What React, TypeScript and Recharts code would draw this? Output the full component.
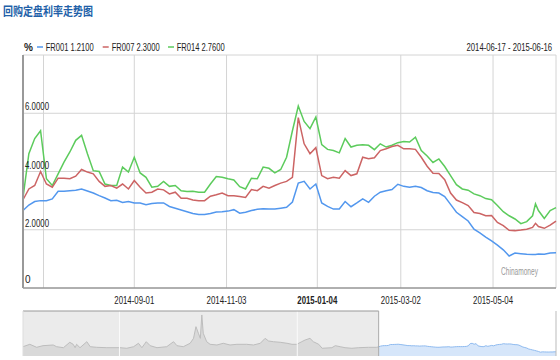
import React from 'react';
import {
  LineChart,
  Line,
  AreaChart,
  Area,
  XAxis,
  YAxis,
  CartesianGrid,
  ReferenceArea,
  ReferenceLine,
} from 'recharts';

// main window: 2014-06-17 .. 2015-06-16
const dates = [
  '2014-06-17', '2014-06-21', '2014-06-25', '2014-06-29', '2014-07-03', '2014-07-07', '2014-07-11', '2014-07-15',
  '2014-07-19', '2014-07-23', '2014-07-27', '2014-07-31', '2014-08-04', '2014-08-08', '2014-08-12', '2014-08-16',
  '2014-08-20', '2014-08-24', '2014-08-28', '2014-09-01', '2014-09-05', '2014-09-09', '2014-09-13', '2014-09-17',
  '2014-09-21', '2014-09-25', '2014-09-29', '2014-10-03', '2014-10-07', '2014-10-11', '2014-10-15', '2014-10-19',
  '2014-10-23', '2014-10-27', '2014-10-31', '2014-11-04', '2014-11-08', '2014-11-12', '2014-11-16', '2014-11-20',
  '2014-11-24', '2014-11-28', '2014-12-02', '2014-12-06', '2014-12-10', '2014-12-14', '2014-12-18', '2014-12-22',
  '2014-12-26', '2014-12-30', '2015-01-03', '2015-01-07', '2015-01-11', '2015-01-15', '2015-01-19', '2015-01-23',
  '2015-01-27', '2015-01-31', '2015-02-04', '2015-02-08', '2015-02-12', '2015-02-16', '2015-02-20', '2015-02-24',
  '2015-02-28', '2015-03-04', '2015-03-08', '2015-03-12', '2015-03-16', '2015-03-20', '2015-03-24', '2015-03-28',
  '2015-04-01', '2015-04-05', '2015-04-09', '2015-04-13', '2015-04-17', '2015-04-21', '2015-04-25', '2015-04-29',
  '2015-05-03', '2015-05-07', '2015-05-11', '2015-05-15', '2015-05-19', '2015-05-23', '2015-05-27', '2015-05-31',
  '2015-06-02', '2015-06-04', '2015-06-08', '2015-06-12', '2015-06-16',
];

const fr001 = [
  2.66, 2.85, 2.97, 3.0, 3.0, 3.06, 3.32, 3.32, 3.34, 3.36, 3.4, 3.33, 3.26, 3.17, 3.09, 3.0,
  3.01, 2.94, 2.97, 2.92, 2.92, 2.86, 2.9, 2.92, 2.92, 2.8, 2.74, 2.68, 2.62, 2.56, 2.52, 2.52,
  2.56, 2.61, 2.62, 2.64, 2.69, 2.57, 2.6, 2.66, 2.7, 2.72, 2.71, 2.71, 2.74, 2.77, 2.95, 3.6,
  3.66, 3.4, 3.57, 2.92, 2.8, 2.71, 2.71, 2.97, 2.79, 2.92, 3.06, 2.94, 3.15, 3.29, 3.34, 3.38,
  3.56, 3.49, 3.46, 3.49, 3.45, 3.34, 3.28, 3.26, 3.14, 2.87, 2.6, 2.45, 2.3, 2.02, 1.89, 1.75,
  1.62, 1.47, 1.31, 1.1, 1.2, 1.18, 1.16, 1.15, 1.15, 1.17, 1.16, 1.2, 1.21,
];

const fr007 = [
  3.03, 3.4, 3.52, 4.0, 3.57, 3.46, 3.77, 3.77, 3.75, 3.84, 4.07, 3.98, 3.92, 3.66, 3.49, 3.52,
  3.43, 3.57, 3.4, 3.69, 3.46, 3.26, 3.29, 3.4, 3.37, 3.23, 3.29, 3.08, 3.08, 3.02, 3.0, 3.0,
  3.15, 3.2, 3.26, 3.17, 3.17, 3.14, 3.11, 3.38, 3.34, 3.49, 3.43, 3.52, 3.6, 3.66, 3.8, 5.85,
  4.95, 4.61, 4.82, 3.86, 3.75, 3.8, 3.77, 4.03, 3.86, 3.92, 4.49, 4.44, 4.47, 4.72, 4.78, 4.86,
  4.9, 4.78, 4.78, 4.76, 4.49, 4.18, 3.94, 3.93, 3.72, 3.26, 3.02, 2.93, 2.83, 2.59, 2.56, 2.48,
  2.49, 2.25, 2.14, 1.98, 1.97, 1.99, 2.02, 2.08, 2.22, 2.11, 2.05, 2.16, 2.3,
];

const fr014 = [
  3.1, 4.61, 5.13, 5.4, 3.75, 3.52, 3.92, 4.32, 4.67, 5.07, 5.24, 4.61, 4.03, 4.0, 3.57, 3.52,
  3.52, 4.15, 3.98, 4.49, 3.95, 3.8, 3.46, 3.49, 3.66, 3.49, 3.52, 3.34, 3.31, 3.32, 3.29, 3.29,
  3.57, 3.83, 3.8, 3.75, 3.71, 3.48, 3.4, 3.77, 3.75, 4.15, 4.11, 3.95, 4.07, 4.49, 5.4, 6.25,
  5.72, 5.47, 5.87, 4.92, 4.76, 4.72, 4.64, 5.13, 4.84, 4.9, 4.92, 4.9, 4.75, 4.95, 4.84, 4.9,
  4.99, 5.03, 5.01, 5.18, 4.72, 4.53, 4.31, 4.43, 4.17, 3.86, 3.55, 3.4, 3.36, 3.23, 3.17, 3.07,
  3.03, 2.83, 2.62, 2.48, 2.37, 2.21, 2.28, 2.48, 2.89, 2.66, 2.39, 2.66, 2.76,
];

const xTickDates = ['2014-07-01', '2014-09-01', '2014-11-03', '2015-01-04', '2015-03-02', '2015-05-04', '2015-06-16'];
const xTickLabels = ['', '2014-09-01', '2014-11-03', '2015-01-04', '2015-03-02', '2015-05-04', ''];
const yTicks = [0, 2, 4, 6, 8];
const yTickLabels = ['0', '2.0000', '4.0000', '6.0000', ''];

// navigator history (FR001) before the selected window
const historyDates = [
  '2012-06-17', '2012-07-01', '2012-07-15', '2012-07-28', '2012-08-18', '2012-08-25', '2012-09-08', '2012-09-21',
  '2012-09-28', '2012-10-02', '2012-10-05', '2012-10-12', '2012-10-26', '2012-11-02', '2012-11-15', '2012-12-06',
  '2013-01-02', '2013-01-16', '2013-01-30', '2013-02-09', '2013-02-16', '2013-02-25', '2013-03-05', '2013-03-19',
  '2013-04-08', '2013-04-22', '2013-04-29', '2013-05-12', '2013-05-26', '2013-06-02', '2013-06-07', '2013-06-12',
  '2013-06-16', '2013-06-19', '2013-06-22', '2013-06-29', '2013-07-06', '2013-07-20', '2013-08-02', '2013-08-16',
  '2013-08-30', '2013-09-19', '2013-10-03', '2013-10-17', '2013-10-27', '2013-11-03', '2013-11-13', '2013-11-27',
  '2013-12-11', '2013-12-21', '2013-12-31', '2014-01-10', '2014-01-17', '2014-01-27', '2014-02-03', '2014-02-14',
  '2014-02-21', '2014-03-13', '2014-03-20', '2014-03-30', '2014-04-09', '2014-04-23', '2014-05-07', '2014-05-27',
  '2014-06-13',
];

const historyFr001 = [
  2.69, 3.38, 2.51, 2.98, 3.18, 2.69, 2.4, 3.96, 3.38, 2.4, 3.38, 2.4, 4.13, 2.69, 2.51, 2.4,
  2.4, 2.23, 2.69, 3.67, 2.4, 4.13, 2.98, 2.4, 2.69, 4.13, 2.98, 2.69, 3.67, 5.1, 8.47, 6.56,
  5.1, 11.85, 6.56, 4.13, 3.38, 3.18, 3.67, 3.18, 3.38, 3.38, 3.18, 3.67, 5.1, 4.34, 4.13, 3.96,
  3.67, 3.38, 3.38, 4.13, 4.62, 5.1, 4.13, 3.38, 2.23, 2.4, 2.98, 2.69, 2.4, 2.23, 2.4, 2.51,
  2.51,
];

const yearLines = ['2013-01-01', '2014-01-01'];

const ts = (d: string) => Date.parse(d);
const start = ts(dates[0]);
const end = ts(dates[dates.length - 1]);
const navStart = ts(historyDates[0]);

const mainData = dates.map((d, i) => ({ t: ts(d), fr001: fr001[i], fr007: fr007[i], fr014: fr014[i] }));

const navData = [
  ...historyDates.map((d, i) => ({ t: ts(d), hist: historyFr001[i], sel: null as number | null })),
  ...dates.map((d, i) => ({ t: ts(d), hist: i === 0 ? fr001[0] : null, sel: fr001[i] })),
];

const BLUE = '#5297ee';
const RED = '#cc6464';
const GREEN = '#5ccb5c';
const NARROW = "'Liberation Sans Narrow', 'Arial Narrow', Arial, 'Liberation Sans', sans-serif";

function DateTick(props: any) {
  const { x, y, payload } = props;
  const idx = xTickDates.findIndex((d) => ts(d) === payload.value);
  const label = idx >= 0 ? xTickLabels[idx] : '';
  if (!label) return null;
  return (
    <text
      x={x}
      y={y + 16}
      textAnchor="middle"
      fontSize={10}
      fontFamily={NARROW}
      fontWeight={label.slice(5, 7) === '01' ? 'bold' : 'normal'}
      fill="#222"
      textLength={40}
      lengthAdjust="spacingAndGlyphs"
    >
      {label}
    </text>
  );
}

function RateTick(props: any) {
  const { x, y, payload } = props;
  const idx = yTicks.indexOf(payload.value);
  const label = idx >= 0 ? yTickLabels[idx] : '';
  if (!label) return null;
  const long = label.length > 1;
  return (
    <text
      x={x + 2}
      y={payload.value === 0 ? y - 5 : y - 3}
      fontSize={10}
      fontFamily={NARROW}
      fill="#222"
      textLength={long ? 24 : undefined}
      lengthAdjust={long ? 'spacingAndGlyphs' : undefined}
    >
      {label}
    </text>
  );
}

const last = (arr: number[]) => arr[arr.length - 1].toFixed(4);

const legendItems = [
  { name: 'FR001', color: BLUE, value: last(fr001), mark: 37, text: 45.7 },
  { name: 'FR007', color: RED, value: last(fr007), mark: 102.7, text: 111.7 },
  { name: 'FR014', color: GREEN, value: last(fr014), mark: 168, text: 176.7 },
];

export default function App() {
  return (
    <div style={{ position: 'absolute', left: 0, top: 0, width: 560, height: 360, background: '#fff' }}>
      <div style={{ position: 'absolute', left: 0, top: 0 }}>
        <LineChart width={560} height={310} data={mainData} margin={{ top: 55, right: 4, bottom: 2, left: 0 }}>
          <CartesianGrid stroke="#d4d4d4" />
          <XAxis
            dataKey="t"
            type="number"
            domain={[start, end]}
            ticks={xTickDates.map(ts)}
            interval={0}
            tick={<DateTick />}
            tickLine={false}
            tickSize={0}
            tickMargin={0}
            axisLine={{ stroke: '#777' }}
            height={20}
          />
          <YAxis
            type="number"
            domain={[0, 8]}
            ticks={yTicks}
            interval={0}
            width={23}
            tick={<RateTick />}
            tickLine={false}
            tickSize={0}
            tickMargin={0}
            axisLine={{ stroke: '#999', strokeWidth: 2 }}
          />
          <Line type="linear" dataKey="fr014" stroke={GREEN} strokeWidth={1.5} dot={false} isAnimationActive={false} />
          <Line type="linear" dataKey="fr007" stroke={RED} strokeWidth={1.5} dot={false} isAnimationActive={false} />
          <Line type="linear" dataKey="fr001" stroke={BLUE} strokeWidth={1.5} dot={false} isAnimationActive={false} />
        </LineChart>
      </div>

      <div style={{ position: 'absolute', left: 0, top: 0 }}>
        <AreaChart width={560} height={360} data={navData} margin={{ top: 311, right: 4, bottom: 4, left: 23 }}>
          <XAxis dataKey="t" type="number" domain={[navStart, end]} hide />
          <YAxis type="number" domain={[0, 13]} hide />
          <ReferenceArea x1={navStart} x2={start} y1={0} y2={13} fill="#ebebeb" fillOpacity={1} stroke="none" />
          {yearLines.map((d) => (
            <ReferenceLine key={d} x={ts(d)} stroke="#fafafa" strokeWidth={1} />
          ))}
          <Area
            type="linear"
            dataKey="hist"
            stroke="#bdbdbd"
            fill="#d9d9d9"
            fillOpacity={1}
            strokeWidth={1}
            isAnimationActive={false}
          />
          <Area
            type="linear"
            dataKey="sel"
            stroke="#8fbbf0"
            fill="#d6e6fa"
            fillOpacity={1}
            strokeWidth={1}
            isAnimationActive={false}
          />
          <ReferenceLine segment={[{ x: navStart, y: 13 }, { x: start, y: 13 }]} stroke="#999" />
          <ReferenceLine x={start} stroke="#aaa" />
          <ReferenceLine x={navStart} stroke="#ddd" />
          <ReferenceLine x={end} stroke="#bbb" />
        </AreaChart>
      </div>

      <svg width={560} height={360} style={{ position: 'absolute', left: 0, top: 0, pointerEvents: 'none' }}>
        <text
          x={3}
          y={16}
          fontSize={12}
          fontWeight="bold"
          fontFamily="'Noto Sans CJK SC', sans-serif"
          fill="#2160a8"
          textLength={90}
          lengthAdjust="spacingAndGlyphs"
        >
          回购定盘利率走势图
        </text>
        <text x={24} y={50.5} fontSize={10} fontWeight="bold" fontFamily={NARROW} fill="#222">
          %
        </text>
        {legendItems.map((it) => (
          <g key={it.name}>
            <line x1={it.mark} x2={it.mark + 6} y1={47} y2={47} stroke={it.color} strokeWidth={1.5} />
            <text
              x={it.text}
              y={50.5}
              fontSize={10}
              fontFamily={NARROW}
              fill="#222"
              textLength={48}
              lengthAdjust="spacingAndGlyphs"
            >
              {`${it.name} ${it.value}`}
            </text>
          </g>
        ))}
        <g transform="translate(552 50.5) scale(0.77 1)">
          <text x={0} y={0} textAnchor="end" fontSize={10} fontFamily={NARROW} fill="#222">
            {`${dates[0]} - ${dates[dates.length - 1]}`}
          </text>
        </g>
        <text
          x={501}
          y={275}
          fontSize={10}
          fontFamily={NARROW}
          fill="#999"
          textLength={37}
          lengthAdjust="spacingAndGlyphs"
        >
          Chinamoney
        </text>
      </svg>
    </div>
  );
}
